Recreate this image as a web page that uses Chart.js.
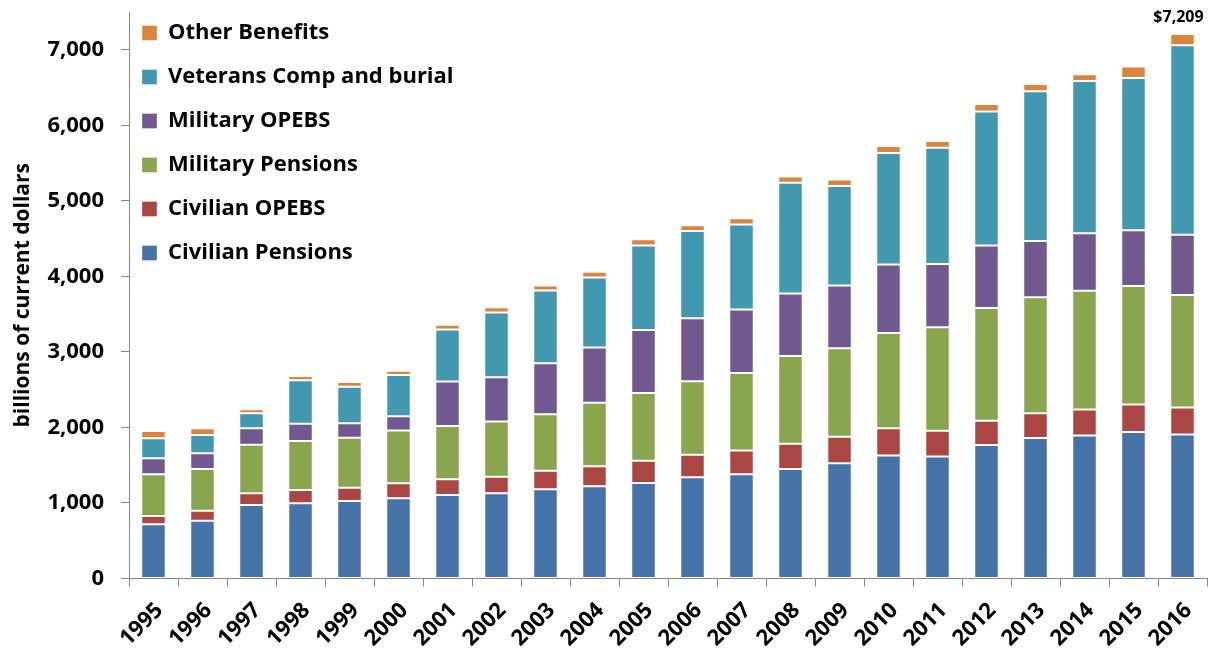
<!DOCTYPE html>
<html>
<head>
<meta charset="utf-8">
<script src="https://cdn.jsdelivr.net/npm/chart.js@4"></script>
<style>
  html, body { margin: 0; padding: 0; background: #fff; }
  #wrap { width: 1216px; height: 654px; }
</style>
</head>
<body>
<div id="wrap"><canvas id="benefitsChart"></canvas></div>
<script>
const years = ['1995', '1996', '1997', '1998', '1999', '2000', '2001', '2002', '2003', '2004', '2005',
    '2006', '2007', '2008', '2009', '2010', '2011', '2012', '2013', '2014', '2015', '2016'];

// billions of current dollars
const civilianPensions = [718, 766, 974, 996, 1026, 1062, 1106, 1128, 1181, 1221, 1265,
    1340, 1380, 1450, 1526, 1630, 1616, 1766, 1860, 1894, 1939, 1905];
const civilianOpebs = [110, 132, 154, 176, 177, 199, 208, 220, 247, 265, 295,
    300, 313, 335, 352, 359, 339, 323, 328, 344, 364, 359];
const militaryPensions = [552, 552, 644, 649, 662, 697, 706, 729, 747, 842, 897,
    972, 1029, 1162, 1171, 1261, 1371, 1491, 1536, 1571, 1571, 1490];
const militaryOpebs = [212, 208, 217, 229, 191, 190, 587, 588, 675, 729, 834,
    834, 838, 825, 829, 908, 837, 827, 743, 763, 738, 797];
const veteransComp = [265, 243, 199, 575, 484, 547, 688, 856, 962, 927, 1117,
    1153, 1126, 1466, 1317, 1475, 1540, 1775, 1984, 2014, 2013, 2509];
const otherBenefits = [97, 88, 53, 57, 63, 57, 63, 71, 66, 76, 85,
    79, 85, 84, 87, 94, 90, 99, 95, 89, 155, 149];

const yTicks = [0, 1000, 2000, 3000, 4000, 5000, 6000, 7000];

const FONT = '"Open Sans", Lato, sans-serif';
const AXIS_GRAY = '#868686';

function series(label, data, color) {
    return {
        label: label,
        data: data,
        backgroundColor: color,
        borderColor: 'rgba(255,255,255,0.35)',
        borderWidth: 1,
        borderSkipped: false,
        categoryPercentage: 1.0,
        barPercentage: 0.5,
    };
}

// writes the grand total above the last stack, nudges the legend in
const extras = {
    id: 'extras',
    afterLayout(chart) {
        chart.legend.left -= 9;
    },
    afterDatasetsDraw(chart) {
        const last = years.length - 1;
        const sets = chart.data.datasets;
        let total = 0;
        sets.forEach(ds => { total += ds.data[last]; });
        const bar = chart.getDatasetMeta(sets.length - 1).data[last];
        const ctx = chart.ctx;
        ctx.save();
        ctx.font = 'bold 16px ' + FONT;
        ctx.fillStyle = '#000';
        ctx.textAlign = 'center';
        ctx.textBaseline = 'alphabetic';
        ctx.fillText('$' + total.toLocaleString('en-US'), bar.x - 4, bar.y - 12);
        ctx.restore();
    }
};

const ctx = document.getElementById('benefitsChart').getContext('2d');
new Chart(ctx, {
    type: 'bar',
    data: {
        labels: years,
        datasets: [
            series('Civilian Pensions', civilianPensions, '#4572A7'),
            series('Civilian OPEBS', civilianOpebs, '#AA4643'),
            series('Military Pensions', militaryPensions, '#89A54E'),
            series('Military OPEBS', militaryOpebs, '#71588F'),
            series('Veterans Comp and burial', veteransComp, '#4198AF'),
            series('Other Benefits', otherBenefits, '#DB843D'),
        ]
    },
    options: {
        responsive: true,
        maintainAspectRatio: false,
        animation: false,
        layout: {
            padding: { top: 12, right: 9, left: 0, bottom: 0 }
        },
        plugins: {
            legend: {
                position: 'chartArea',
                align: 'start',
                reverse: true,
                labels: {
                    boxWidth: 15,
                    boxHeight: 15,
                    padding: 22,
                    color: '#000',
                    font: { family: FONT, size: 22, weight: 'bold' },
                },
            },
            tooltip: { enabled: false },
        },
        scales: {
            x: {
                stacked: true,
                afterFit: axis => {
                    axis.height = 75.5;
                    axis.paddingLeft = 0;
                    axis.paddingRight = 0;
                },
                grid: {
                    display: true,
                    drawOnChartArea: false,
                    color: AXIS_GRAY,
                    tickLength: 8,
                },
                border: { color: AXIS_GRAY, width: 1 },
                ticks: {
                    color: '#000',
                    maxRotation: 45,
                    minRotation: 45,
                    padding: 11,
                    labelOffset: 6,
                    font: { family: FONT, size: 22, weight: 'bold' },
                },
            },
            y: {
                stacked: true,
                min: 0,
                max: 7500,
                afterBuildTicks: axis => {
                    axis.ticks = yTicks.map(v => ({ value: v }));
                },
                afterFit: axis => {
                    axis.width = 129;
                    axis.paddingTop = 0;
                    axis.paddingBottom = 0;
                },
                title: {
                    display: true,
                    text: 'billions of current dollars',
                    color: '#000',
                    font: { family: FONT, size: 21, weight: 'bold' },
                    padding: { top: 10, bottom: 0 },
                },
                grid: {
                    display: true,
                    drawOnChartArea: false,
                    color: AXIS_GRAY,
                    tickLength: 8,
                },
                border: { color: AXIS_GRAY, width: 1 },
                ticks: {
                    color: '#000',
                    padding: 17,
                    font: { family: FONT, size: 22, weight: 'bold' },
                    callback: v => v.toLocaleString('en-US'),
                },
            },
        },
    },
    plugins: [extras],
});
</script>
</body>
</html>
